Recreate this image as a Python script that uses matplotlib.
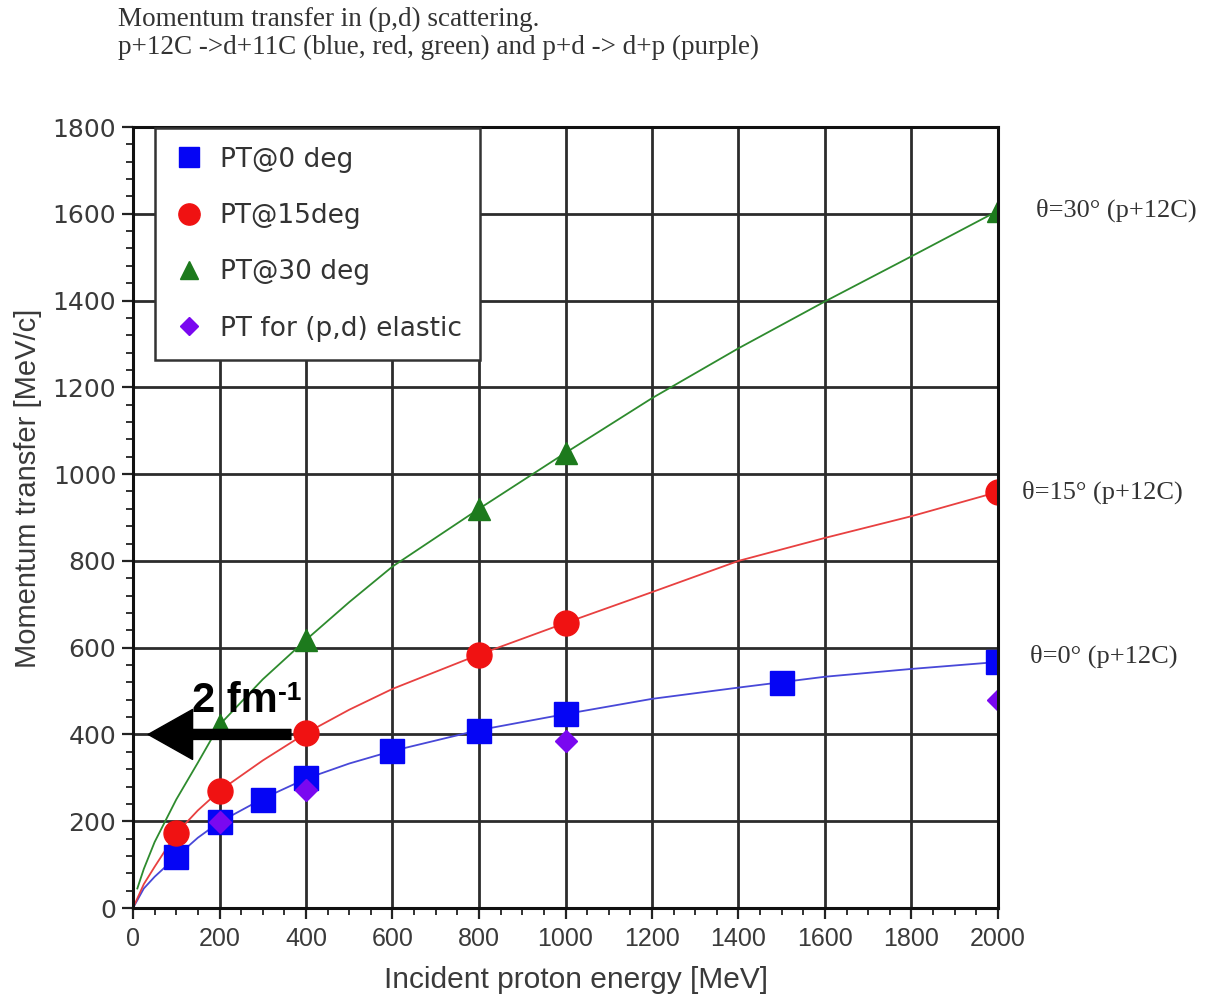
import matplotlib
matplotlib.use("Agg")
import matplotlib.pyplot as plt
from matplotlib.ticker import MultipleLocator

# ---- measured points -------------------------------------------------------
energy_0deg = [100, 200, 300, 400, 600, 800, 1000, 1500, 2000]
pt_0deg = [117, 198, 249, 300, 362, 408, 447, 518, 567]

energy_15deg = [100, 200, 400, 800, 1000, 2000]
pt_15deg = [173, 270, 403, 583, 657, 959]

energy_30deg = [200, 400, 800, 1000, 2000]
pt_30deg = [422, 618, 920, 1049, 1607]

energy_elastic = [200, 400, 1000, 2000]
pt_elastic = [198, 272, 385, 479]

# ---- calculated curves -----------------------------------------------------
curve_energy = [0, 25, 50, 100, 150, 200, 300, 400, 500, 600, 800, 1000,
                1200, 1400, 1600, 1800, 2000]
curve_0deg = [0, 45, 72, 118, 162, 198, 252, 298, 333, 362, 410, 447,
              482, 508, 533, 551, 567]
curve_15deg = [0, 55, 95, 172, 225, 270, 340, 403, 457, 505, 584, 657,
               728, 800, 853, 903, 959]
curve_energy_30 = [10, 25, 50, 100, 150, 200, 300, 400, 500, 600, 800, 1000,
                   1200, 1400, 1600, 1800, 2000]
curve_30deg = [45, 90, 152, 250, 335, 422, 527, 618, 705, 787, 920, 1049,
               1175, 1290, 1398, 1502, 1607]

legend_labels = ["PT@0 deg", "PT@15deg", "PT@30 deg", "PT for (p,d) elastic"]
curve_labels = ["\u03b8=0\u00b0 (p+12C)", "\u03b8=15\u00b0 (p+12C)", "\u03b8=30\u00b0 (p+12C)"]
x_ticks = list(range(0, 2001, 200))
y_ticks = list(range(0, 1801, 200))

# ---- style -----------------------------------------------------------------
BLUE, RED, GREEN, PURPLE = "#0505f5", "#f01212", "#1d7a1d", "#7a08f0"
BLUE_LINE, RED_LINE, GREEN_LINE = "#4848d8", "#e84040", "#2e8b2e"
GRID = "#2c2c2c"
SANS = ["Liberation Sans", "DejaVu Sans"]
SERIF = ["Liberation Serif", "DejaVu Serif"]

fig = plt.figure(figsize=(12.05, 9.97), dpi=100)
ax = fig.add_axes([133 / 1205, 1 - 908 / 997, 865 / 1205, 781 / 997])

ax.plot(curve_energy, curve_0deg, color=BLUE_LINE, lw=1.3, zorder=3)
ax.plot(curve_energy, curve_15deg, color=RED_LINE, lw=1.3, zorder=3)
ax.plot(curve_energy_30, curve_30deg, color=GREEN_LINE, lw=1.3, zorder=3)

h0, = ax.plot(energy_0deg, pt_0deg, ls="none", marker="s", ms=17,
              color=BLUE, mec=BLUE, zorder=4, label=legend_labels[0])
h15, = ax.plot(energy_15deg, pt_15deg, ls="none", marker="o", ms=18,
               color=RED, mec=RED, zorder=5, label=legend_labels[1])
h30, = ax.plot(energy_30deg, pt_30deg, ls="none", marker="^", ms=16,
               color=GREEN, mec=GREEN, zorder=5, label=legend_labels[2])
hel, = ax.plot(energy_elastic, pt_elastic, ls="none", marker="D", ms=11,
               color=PURPLE, mec=PURPLE, zorder=6, label=legend_labels[3])

ax.set_xlim(0, 2000)
ax.set_ylim(0, 1800)
ax.set_xticks(x_ticks)
ax.set_yticks(y_ticks)
ax.xaxis.set_minor_locator(MultipleLocator(50))
ax.yaxis.set_minor_locator(MultipleLocator(40))
ax.grid(True, which="major", color=GRID, lw=2.0, zorder=1)
ax.set_axisbelow(True)
for s in ax.spines.values():
    s.set_linewidth(2.2)
    s.set_color("#111111")
    s.set_zorder(7)

ax.tick_params(axis="both", which="major", direction="out", length=8,
               width=1.6, color="#222222", labelcolor="#3a3a3a")
ax.tick_params(axis="both", which="minor", direction="out", length=5,
               width=1.3, color="#222222")
ax.tick_params(axis="y", which="major", pad=4, labelsize=18)
ax.tick_params(axis="x", which="major", pad=6, labelsize=18)
for lab in ax.get_xticklabels():
    lab.set_family(SANS)
for lab in ax.get_yticklabels():
    lab.set_family("DejaVu Sans")

ax.set_xlabel("Incident proton energy [MeV]", family=SANS, fontsize=21.5,
              color="#3a3a3a", va="center")
ax.xaxis.set_label_coords(0.512, -0.092)
ax.set_ylabel("Momentum transfer [MeV/c]", family=SANS, fontsize=21,
              color="#3a3a3a", va="center")
ax.yaxis.set_label_coords(-0.121, 0.537)

leg = ax.legend(handles=[h0, h15, h30, hel], loc="upper left",
                bbox_to_anchor=(0.0254, 0.9985), borderaxespad=0,
                prop={"family": "DejaVu Sans", "size": 19}, fancybox=False,
                framealpha=1, edgecolor="#333333", labelspacing=1.15,
                handlelength=1.15, handletextpad=0.6, borderpad=0.7,
                markerscale=0.85, numpoints=1)
leg.get_frame().set_linewidth(1.8)
for t in leg.get_texts():
    t.set_color("#333333")
leg.set_zorder(8)

# curve annotations on the right edge
ax.annotate(curve_labels[2], xy=(energy_30deg[-1], pt_30deg[-1]),
            xytext=(27, 0), textcoords="offset points", va="center",
            ha="left", family=SERIF, fontsize=19, color="#333333",
            annotation_clip=False)
ax.annotate(curve_labels[1], xy=(energy_15deg[-1], pt_15deg[-1]),
            xytext=(17, 0), textcoords="offset points", va="center",
            ha="left", family=SERIF, fontsize=19, color="#333333",
            annotation_clip=False)
ax.annotate(curve_labels[0], xy=(energy_0deg[-1], pt_0deg[-1]),
            xytext=(23, 4), textcoords="offset points", va="center",
            ha="left", family=SERIF, fontsize=19, color="#333333",
            annotation_clip=False)

# 2 fm^-1 marker
ax.annotate("", xy=(35, 400), xytext=(365, 400),
            arrowprops=dict(arrowstyle="simple,head_length=1.6,head_width=1.8,tail_width=0.36",
                            mutation_scale=20, color="black", shrinkA=0,
                            shrinkB=0), zorder=9)
t2 = ax.text(136, 452, "2 fm", fontsize=30, fontweight="bold",
             family=SANS, va="baseline", ha="left", zorder=9)
ax.annotate("-1", xy=(1.0, 1.0), xycoords=t2, va="top", ha="left",
            fontsize=19, fontweight="bold", family=SANS, zorder=9)

# title block
fig.text(118 / 1205, 1 - 26 / 997, "Momentum transfer in (p,d) scattering.",
         family=SERIF, fontsize=19.5, color="#333333", va="baseline", ha="left")
fig.text(118 / 1205, 1 - 54 / 997,
         "p+12C ->d+11C (blue, red, green) and p+d -> d+p (purple)",
         family=SERIF, fontsize=19.5, color="#333333", va="baseline", ha="left")

fig.savefig("out.png", dpi=100, facecolor="white")
